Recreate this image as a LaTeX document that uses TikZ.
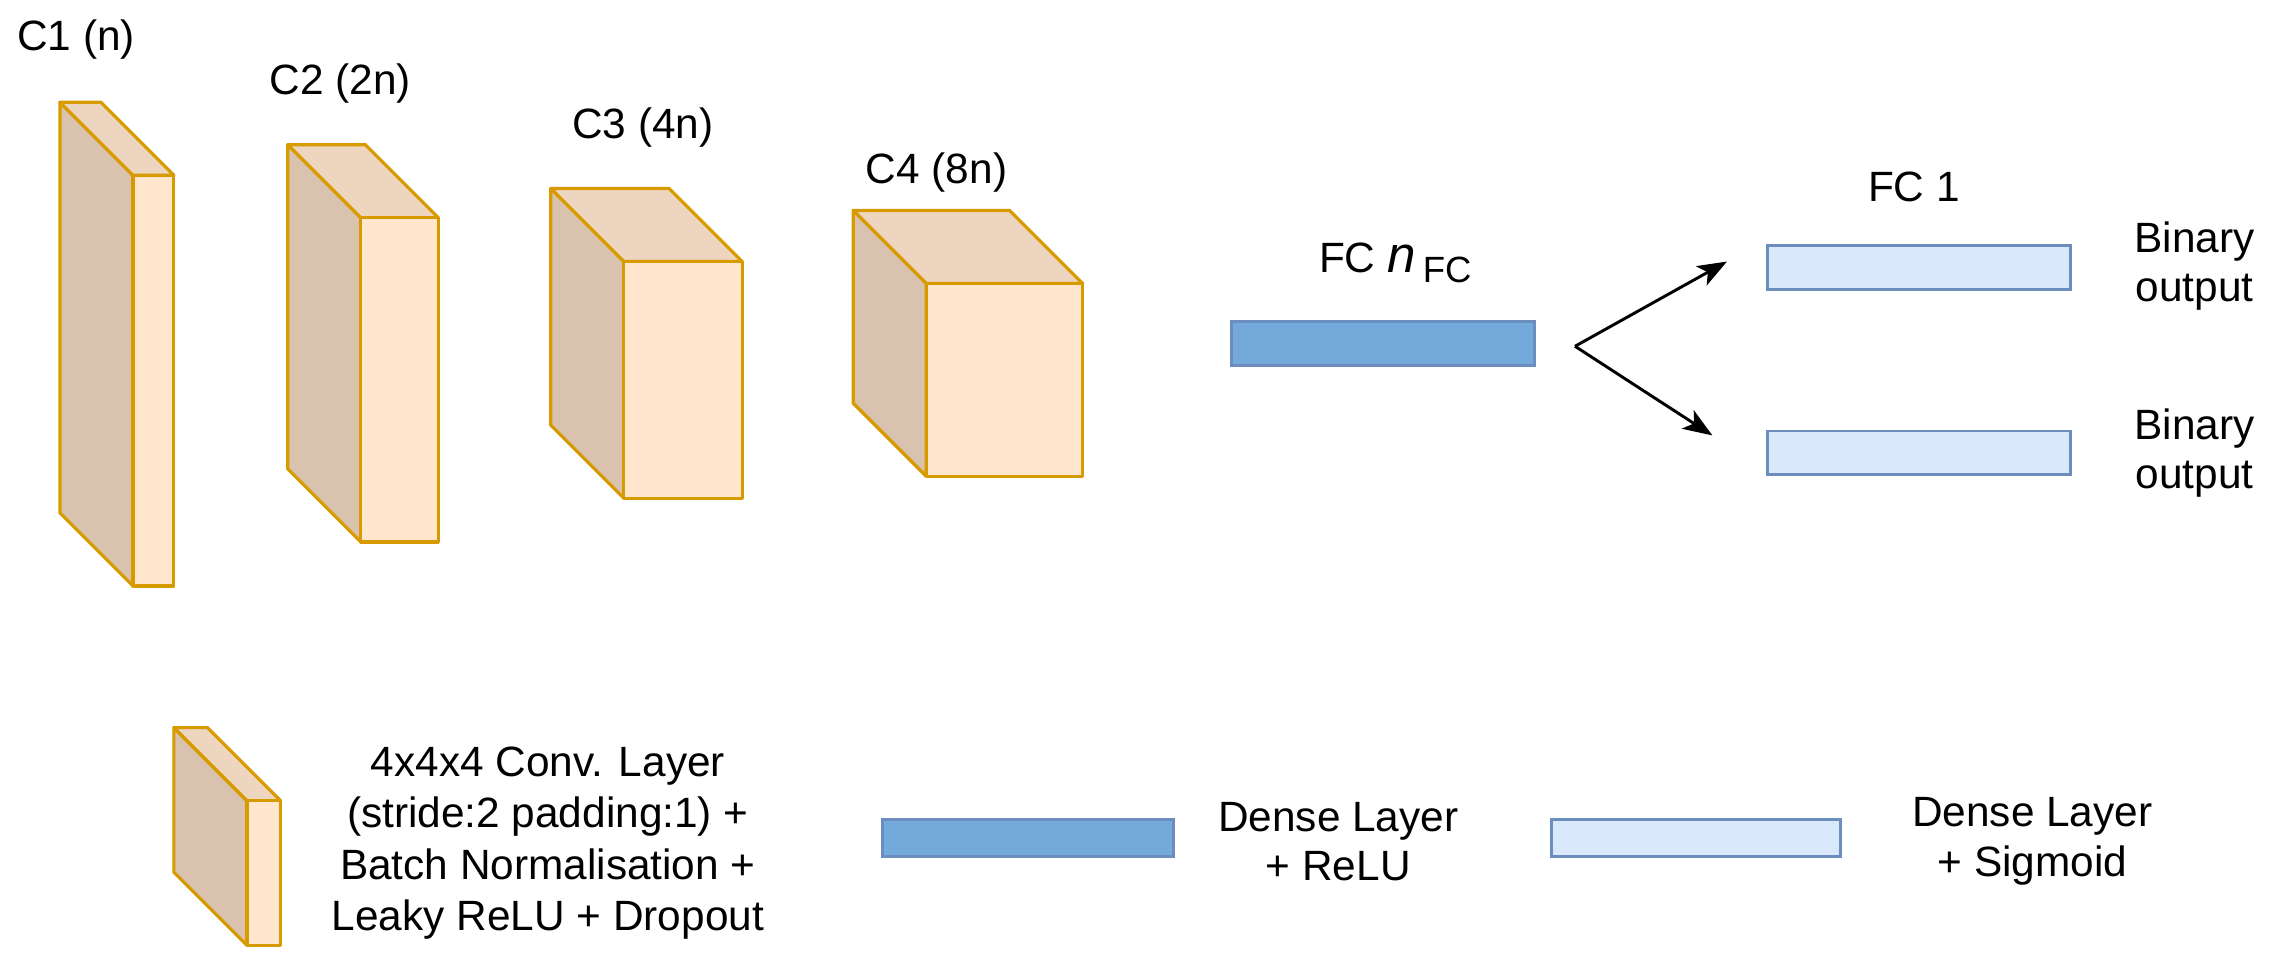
\documentclass[tikz,border=0pt]{standalone}
\usepackage{fontspec}
\usetikzlibrary{arrows.meta}
\setmainfont{Liberation Sans}
\definecolor{cfront}{HTML}{FFE6CC}
\definecolor{ctop}{HTML}{EDD5BF}
\definecolor{cside}{HTML}{D9C3AE}
\definecolor{cstroke}{HTML}{D79B00}
\definecolor{dfill}{HTML}{74A9DC}
\definecolor{lfill}{HTML}{DAE8FC}
\definecolor{bstroke}{HTML}{6C8EBF}
\newcommand{\mycube}[5]{% x y w h d  (front face top-left)
  \draw[cube,fill=cside] (#1,#2) -- ++(-#5,-#5) -- ++(0,#4) -- ++(#5,#5) -- cycle;
  \draw[cube,fill=ctop] (#1,#2) -- ++(-#5,-#5) -- ++(#3,0) -- ++(#5,#5) -- cycle;
  \draw[cube,fill=cfront] (#1,#2) rectangle ++(#3,#4);}
\begin{document}
\begin{tikzpicture}[x=1pt,y=-1pt,font=\fontsize{29}{34}\selectfont,
  cube/.style={draw=cstroke,line width=2.2pt,line join=round},
  dense/.style={draw=bstroke,line width=2pt,fill=dfill,minimum height=30pt,inner sep=0pt},
  sig/.style={draw=bstroke,line width=2pt,fill=lfill,minimum height=30pt,inner sep=0pt},
  lab/.style={align=center,inner sep=0pt},
  arr/.style={line width=2pt,-{Stealth[length=20pt,width=15pt,inset=5pt]}}]
\useasboundingbox (0,0) rectangle (1566,665);
\mycube{91}{120}{28}{281}{50}
\mycube{247}{149}{53}{222}{50}
\mycube{427}{179}{81}{162}{50}
\mycube{634}{194}{107}{132}{50}
\node[lab] (l1) at (52,27) {C1 (n)};
\node[lab] (l2) at (233,57) {C2 (2n)};
\node[lab] (l3) at (440,87) {C3 (4n)};
\node[lab] (l4) at (641,118) {C4 (8n)};
\node[dense,minimum width=207pt] (fc) at (946.5,235) {};
\node[lab] (fcl) at (955,180) {FC \textit{\fontsize{35}{35}\selectfont n}\,\raisebox{-7pt}{\fontsize{25}{25}\selectfont FC}};
\coordinate (s) at (1078,237);
\node[sig,minimum width=207pt] (o1) at (1313.5,183) {};
\node[sig,minimum width=207pt] (o2) at (1313.5,310) {};
\coordinate (t1) at (1182,179);
\coordinate (t2) at (1172,298);
\draw[arr] (s) -- (t1);
\draw[arr] (s) -- (t2);
\node[lab] (fc1) at (1310,128) {FC 1};
\node[lab] (b1) at (1502,182) {Binary\\output};
\node[lab] (b2) at (1502,310) {Binary\\output};
\mycube{169}{548}{23}{99}{50}
\node[lab,font=\fontsize{29}{35}\selectfont] (t) at (375,577) {4x4x4 Conv. Layer\\(stride:2 padding:1) +\\Batch Normalisation +\\Leaky ReLU + Dropout};
\node[dense,minimum width=199pt,minimum height=25pt] (ld) at (703.5,573.5) {};
\node[lab] (ldt) at (916,576) {Dense Layer\\+ ReLU};
\node[sig,minimum width=198pt,minimum height=25pt] (ls) at (1161,573.5) {};
\node[lab] (lst) at (1391,576) {Dense Layer\\+ Sigmoid};
\end{tikzpicture}
\end{document}
